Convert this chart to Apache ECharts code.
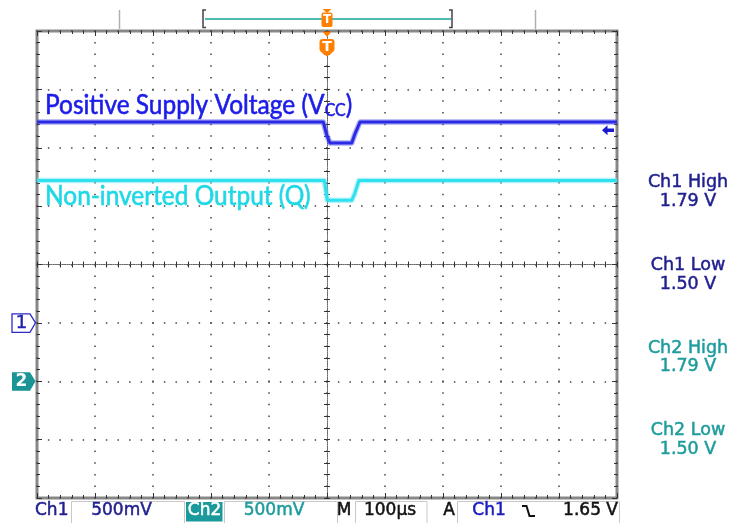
<!DOCTYPE html>
<html><head><meta charset="utf-8">
<script src="https://cdn.jsdelivr.net/npm/echarts@6/dist/echarts.min.js"></script>
<style>html,body{margin:0;padding:0;background:#fff}#c{width:735px;height:523px}</style>
</head><body><div id="c"></div>
<script>
// ---- data (time in µs, voltage in V) ----
const ch1Time  = [-500, -6.4, -0.5, 5.2, 42.6, 48.3, 56.9, 500];
const ch1Volts = [1.72, 1.72, 1.61, 1.54, 1.54, 1.62, 1.72, 1.72];
const ch2Time  = [-500, -4.6, 0.5, 42.6, 48.0, 55.0, 500];
const ch2Volts = [1.72, 1.72, 1.55, 1.55, 1.61, 1.72, 1.72];
const traceNames = ['Positive Supply Voltage (V', 'CC', ')', 'Non-inverted Output (Q)'];
const measureLabels = ['Ch1 High', 'Ch1 Low', 'Ch2 High', 'Ch2 Low'];
const measureValues = ['1.79 V', '1.50 V', '1.79 V', '1.50 V'];
const ch1Scale = '500mV';
const ch2Scale = '500mV';
const timeBase = '100µs';
const trigSource = 'Ch1';
const trigLevel = 1.65;
const trigLevelText = '1.65 V';
const timeMin = -500, timeMax = 500, timeStep = 100;

const FONT = 'DejaVu Sans';
const C1 = '#1f1f8f', C2 = '#1e9c9c';
const blue = '#2b2be6', cyan = '#2fe0ee';

function zip(a, b) { return a.map((v, i) => [v, b[i]]); }

const tickStyle = {color: '#333', width: 1};
function xBorder(pos, split) {
  return {type: 'value', min: timeMin, max: timeMax, interval: timeStep, position: pos,
    axisLine: {show: false, onZero: false},
    axisTick: {show: true, inside: true, length: 5, lineStyle: tickStyle},
    minorTick: {show: true, splitNumber: 5, length: 3, lineStyle: tickStyle},
    axisLabel: {show: false},
    splitLine: {show: split, lineStyle: {color: '#444', width: 1.5, type: [1.5, 10.175], dashOffset: 0.75}}};
}
function yBorder(pos, split) {
  return {type: 'value', min: -4, max: 4, interval: 1, position: pos,
    axisLine: {show: false, onZero: false},
    axisTick: {show: true, inside: true, length: 5, lineStyle: tickStyle},
    minorTick: {show: true, splitNumber: 5, length: 3, lineStyle: tickStyle},
    axisLabel: {show: false},
    splitLine: {show: split, lineStyle: {color: '#444', width: 1.5, type: [1.5, 10.1], dashOffset: 0.75}}};
}
function xCenter(inside) {
  return {type: 'value', min: timeMin, max: timeMax, interval: timeStep, position: 'bottom',
    axisLine: {show: true, onZero: true, onZeroAxisIndex: 0, lineStyle: {color: '#666', width: 1, type: [1, 1.3]}},
    axisTick: {show: true, inside: inside, length: 3, lineStyle: tickStyle},
    minorTick: {show: true, splitNumber: 5, length: 3, lineStyle: tickStyle},
    axisLabel: {show: false}, splitLine: {show: false}};
}
function yCenter(inside) {
  return {type: 'value', min: -4, max: 4, interval: 1, position: 'left',
    axisLine: {show: true, onZero: true, onZeroAxisIndex: 0, lineStyle: {color: '#666', width: 1, type: [1, 1.3]}},
    axisTick: {show: true, inside: inside, length: 3, lineStyle: tickStyle},
    minorTick: {show: true, splitNumber: 5, length: 3, lineStyle: tickStyle},
    axisLabel: {show: false}, splitLine: {show: false}};
}

const chart = echarts.init(document.getElementById('c'), null, {renderer: 'canvas'});

function trace(data, yIdx, color, w, op, z) {
  return {type: 'line', xAxisIndex: 0, yAxisIndex: yIdx, data: data, symbol: 'none', silent: true,
    animation: false, z: z, lineStyle: {color: color, width: w, opacity: op, join: 'round'}};
}

const series = [
  trace(zip(ch1Time, ch1Volts), 4, '#5a5af0', 5.5, 0.5, 3),
  Object.assign(trace(zip(ch1Time, ch1Volts), 4, blue, 3, 1, 4), {
    markPoint: {silent: true, animation: false, label: {show: false},
      data: [{coord: [timeMax, trigLevel], symbol: 'path://M0,5 L5.5,0 L5.5,3.3 L12,3.3 L12,6.7 L5.5,6.7 L5.5,10 Z',
        symbolSize: [12, 10], symbolOffset: [-9, 0], itemStyle: {color: '#1a1ad0'}}]}
  }),
  trace(zip(ch2Time, ch2Volts), 5, '#6aeaf4', 5.5, 0.5, 3),
  trace(zip(ch2Time, ch2Volts), 5, cyan, 3, 1, 4)
];

chart.setOption({
  animation: false,
  backgroundColor: '#fff',
  grid: {left: 37, top: 31, width: 580, height: 467, show: true, borderColor: '#888', borderWidth: 3, backgroundColor: '#fff'},
  xAxis: [xBorder('bottom', true), xBorder('top', false), xCenter(false), xCenter(true)],
  yAxis: [yBorder('left', true), yBorder('right', false), yCenter(false), yCenter(true),
    {type: 'value', min: -1.5, max: 2.5, interval: 0.5, show: false},
    {type: 'value', min: -1, max: 3, interval: 0.5, show: false}],
  series: series
});

// positions from the library's scales
const y1 = chart.convertToPixel({yAxisIndex: 4}, 0);
const y2 = chart.convertToPixel({yAxisIndex: 5}, 0);
const xt = chart.convertToPixel({xAxisIndex: 0}, 0);

function txt(x, y, s, color, size, align, bold) {
  return {type: 'text', x: x, y: y, z: 50,
    style: {text: s, fill: color, font: size + 'px "' + FONT + '"', align: align || 'center', verticalAlign: 'middle',
      stroke: bold ? color : null, lineWidth: bold ? 0.5 : 0}};
}
function box(x, y, w, h, stroke, fill) {
  return {type: 'rect', z: 40, shape: {x: x, y: y, width: w, height: h}, style: {stroke: stroke, fill: fill || null, lineWidth: 1}};
}
const orange = '#ff7f00';
const g = [];
// top decorations
g.push({type: 'line', z: 40, shape: {x1: 119.5, y1: 10, x2: 119.5, y2: 29}, style: {stroke: '#b0b0b0', lineWidth: 1.5}});
g.push({type: 'line', z: 40, shape: {x1: 535.5, y1: 10, x2: 535.5, y2: 29}, style: {stroke: '#b0b0b0', lineWidth: 1.5}});
g.push({type: 'line', z: 40, shape: {x1: 205, y1: 19, x2: 451, y2: 19}, style: {stroke: '#4fbab3', lineWidth: 2}});
g.push({type: 'polyline', z: 40, shape: {points: [[206, 10], [203, 10], [203, 27.5], [206, 27.5]]}, style: {stroke: '#444', lineWidth: 1.5, fill: null}});
g.push({type: 'polyline', z: 40, shape: {points: [[449, 10], [452, 10], [452, 27.5], [449, 27.5]]}, style: {stroke: '#444', lineWidth: 1.5, fill: null}});
// trigger position markers
g.push({type: 'polygon', z: 45, shape: {points: [[xt - 4.5, 9], [xt + 4.5, 9], [xt, 13]]}, style: {fill: orange}});
g.push({type: 'rect', z: 45, shape: {x: xt - 5.5, y: 12.5, width: 11, height: 14.5, r: 2}, style: {fill: orange}});
g.push({type: 'text', z: 50, x: xt, y: 20, style: {text: 'T', fill: '#fff', font: 'bold 12px "DejaVu Sans"', align: 'center', verticalAlign: 'middle'}});
g.push({type: 'polygon', z: 45, shape: {points: [[xt - 4.5, 31.5], [xt + 4.5, 31.5], [xt, 37]]}, style: {fill: orange}});
g.push({type: 'rect', z: 45, shape: {x: xt - 7.5, y: 39, width: 15, height: 14.5, r: [3, 3, 5, 5]}, style: {fill: orange}});
g.push({type: 'polygon', z: 45, shape: {points: [[xt - 5, 53], [xt + 5, 53], [xt, 56.5]]}, style: {fill: orange}});
g.push({type: 'text', z: 50, x: xt, y: 47, style: {text: 'T', fill: '#fff', font: 'bold 14px "DejaVu Sans"', align: 'center', verticalAlign: 'middle'}});
// ground markers
g.push({type: 'polygon', z: 45, shape: {points: [[12, y1 - 9], [30, y1 - 9], [35.5, y1], [30, y1 + 9.5], [12, y1 + 9.5]]}, style: {stroke: '#2b2bc8', fill: '#fff', lineWidth: 1.3}});
g.push(txt(21.5, y1 + 0.5, '1', '#2020b0', 18, 'center', true));
g.push({type: 'polygon', z: 45, shape: {points: [[12, y2 - 9], [30, y2 - 9], [35.5, y2], [30, y2 + 9.5], [12, y2 + 9.5]]}, style: {fill: '#1a9494'}});
g.push({type: 'text', z: 50, x: 21.5, y: y2 + 0.5, style: {text: '2', fill: '#fff', font: 'bold 17px "DejaVu Sans"', align: 'center', verticalAlign: 'middle'}});
// trace labels
const lblBlue = '#1c1ce8', lblCyan = '#1fd8e6';
g.push({type: 'text', z: 50, x: 45, y: 119, scaleX: 0.94, style: {
  text: '{a|' + traceNames[0] + '}{s|' + traceNames[1] + '}{a|' + traceNames[2] + '}',
  align: 'left', verticalAlign: 'bottom',
  rich: {a: {fill: lblBlue, stroke: lblBlue, lineWidth: 0.6, fontFamily: 'Lato', fontSize: 26, verticalAlign: 'bottom'},
         s: {fill: lblBlue, stroke: lblBlue, lineWidth: 0.5, fontFamily: 'Lato', fontSize: 17, verticalAlign: 'bottom'}}}});
g.push({type: 'text', z: 50, x: 45, y: 197, scaleX: 0.94, style: {text: traceNames[3], fill: lblCyan, stroke: lblCyan, lineWidth: 0.6,
  font: '26px Lato', align: 'left', verticalAlign: 'middle'}});
// measurements
const mY = [[182, 201], [265, 284], [348, 366], [430, 449]];
measureLabels.forEach((l, i) => {
  const col = i < 2 ? C1 : C2;
  g.push(txt(688, mY[i][0], l, col, 17.5, 'center', true));
  g.push(txt(688, mY[i][1], measureValues[i], col, 17.5, 'center', true));
});
// status bar
const sy = 511;
g.push(txt(35, sy, 'Ch1', C1, 17, 'left', true));
g.push(box(71.5, 501.5, 113, 23, '#c8c8c8'));
g.push(txt(121.5, sy, ch1Scale, C1, 17, 'center', true));
g.push({type: 'rect', z: 40, shape: {x: 186, y: 502, width: 36.5, height: 19.5}, style: {fill: '#1a9a9a'}});
g.push(txt(204.5, sy, 'Ch2', '#fff', 17, 'center', true));
g.push(box(224.5, 501.5, 113, 23, '#c8c8c8'));
g.push(txt(274, sy, ch2Scale, C2, 17, 'center', true));
g.push(txt(344, sy, 'M', '#111', 17, 'center', true));
g.push(box(355.5, 501.5, 71.5, 23, '#c8c8c8'));
g.push(txt(390, sy, timeBase, '#111', 17, 'center', true));
g.push(txt(449, sy, 'A', '#111', 17, 'center', true));
g.push(box(457.5, 501.5, 162, 23, '#c8c8c8'));
g.push(txt(489, sy, trigSource, '#1a1ac0', 17, 'center', true));
g.push({type: 'polyline', z: 45, shape: {points: [[522, 506], [526.5, 506], [529.5, 516], [535, 516]]}, style: {stroke: '#111', lineWidth: 2, fill: null}});
g.push(txt(618, sy, trigLevelText, '#111', 17, 'right', true));

chart.setOption({graphic: {elements: g}});
</script>
</body></html>
